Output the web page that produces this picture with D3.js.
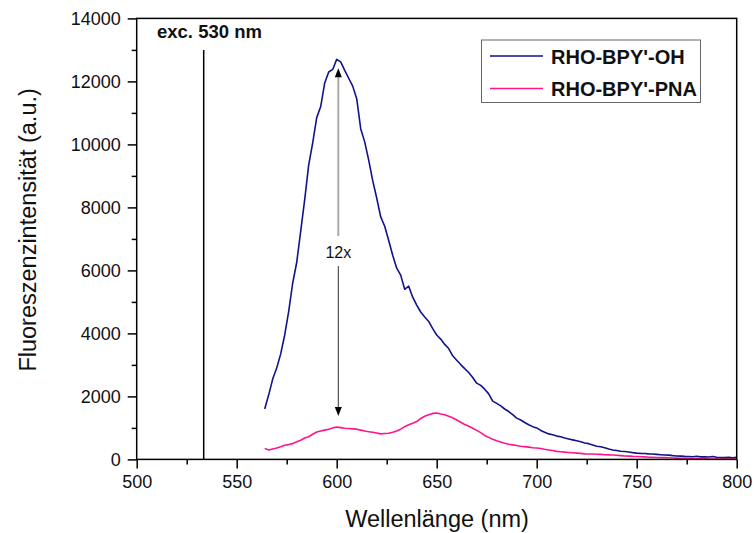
<!DOCTYPE html>
<html>
<head>
<meta charset="utf-8">
<script src="https://cdn.jsdelivr.net/npm/d3@7"></script>
<style>
  html, body { margin: 0; padding: 0; background: #fff; }
  svg { display: block; }
  text { font-family: "Liberation Sans", Arial, sans-serif; fill: #111; }
</style>
</head>
<body>
<svg id="chart" width="754" height="533"></svg>
<script>
// Emission spectra, 2 nm steps (nm)
const wavelengths = d3.range(564, 801, 2);

// RHO-BPY'-OH fluorescence (a.u.)
const rhoOH = [
  1600, 2050, 2550, 2900, 3350, 3950, 4700, 5600, 6250, 7250,
  8250, 9350, 10050, 10850, 11200, 11950, 12300, 12380, 12700, 12620,
  12350, 12100, 11850, 11450, 10500, 10080, 9500, 8850, 8300, 7700,
  7400, 6950, 6480, 6070, 5850, 5400, 5500, 5150, 4900, 4680,
  4520, 4380, 4150, 3950, 3820, 3650, 3520, 3290, 3150, 3010,
  2880, 2760, 2600, 2420, 2350, 2230, 2080, 1850, 1780, 1700,
  1600, 1520, 1420, 1310, 1250, 1170, 1100, 1040, 1000, 920,
  860, 810, 780, 740, 720, 680, 650, 620, 590, 560,
  520, 500, 460, 420, 400, 370, 330, 300, 280, 260,
  250, 235, 215, 200, 190, 185, 175, 170, 160, 150,
  140, 135, 120, 110, 105, 95, 90, 85, 100, 80,
  85, 75, 90, 70, 60, 55, 65, 50, 70
];

// RHO-BPY'-PNA fluorescence (a.u.)
const rhoPNA = [
  350, 300, 330, 360, 400, 450, 470, 500, 560, 610,
  680, 720, 800, 870, 900, 930, 960, 1000, 1030, 1010,
  990, 980, 970, 960, 930, 900, 880, 860, 840, 810,
  820, 830, 860, 900, 960, 1040, 1100, 1150, 1200, 1300,
  1370, 1420, 1460, 1470, 1440, 1420, 1370, 1320, 1250, 1180,
  1110, 1050, 990, 920, 850, 760, 700, 640, 590, 550,
  510, 480, 460, 440, 420, 405, 390, 370, 360, 345,
  320, 300, 280, 255, 245, 230, 220, 210, 200, 190,
  175, 170, 170, 165, 160, 150, 145, 140, 130, 120,
  110, 105, 95, 90, 85, 80, 70, 65, 60, 55,
  55, 50, 45, 40, 35, 35, 35, 30, 25, 20,
  20, 15, 15, 15, 10, 15, 10, 10, 10
];

const seriesNames = ["RHO-BPY'-OH", "RHO-BPY'-PNA"];
const seriesColors = ["#12128c", "#ff148c"];

const xTicks = [500, 550, 600, 650, 700, 750, 800];
const yTicks = [0, 2000, 4000, 6000, 8000, 10000, 12000, 14000];

// excitation marker and enhancement arrow
const excitation = { nm: 533.5, top: 13000, label: "exc. 530 nm" };
const enhancement = { nm: 600.8, high: 12420, low: 1380, label: "12x" };

const svg = d3.select("#chart");
const x = d3.scaleLinear().domain([500, 800]).range([136.7, 736.7]);
const y = d3.scaleLinear().domain([0, 14000]).range([459.4, 18.4]);

const plotL = x(500), plotR = x(800), plotT = y(14000), plotB = y(0);

// data curves
const line = d3.line().x(d => x(d[0])).y(d => y(d[1]));
[rhoOH, rhoPNA].forEach((vals, i) => {
  svg.append("path")
    .datum(wavelengths.map((w, k) => [w, vals[k]]))
    .attr("d", line)
    .attr("fill", "none")
    .attr("stroke", seriesColors[i])
    .attr("stroke-width", 1.6)
    .attr("stroke-linejoin", "round");
});

// excitation line
svg.append("line")
  .attr("x1", x(excitation.nm)).attr("x2", x(excitation.nm))
  .attr("y1", y(0)).attr("y2", y(excitation.top))
  .attr("stroke", "#000").attr("stroke-width", 1.5);
svg.append("text")
  .attr("x", 157).attr("y", 38)
  .attr("font-size", 18.5).attr("font-weight", "bold")
  .text(excitation.label);

// enhancement arrow
const ax = x(enhancement.nm);
const yHi = y(enhancement.high), yLo = y(enhancement.low);
svg.append("line")
  .attr("x1", ax).attr("x2", ax).attr("y1", yHi + 6).attr("y2", 236)
  .attr("stroke", "#aaa").attr("stroke-width", 2);
svg.append("path")
  .attr("d", `M${ax},${yHi} L${ax - 3.5},${yHi + 9} L${ax + 3.5},${yHi + 9} Z`)
  .attr("fill", "#000");
svg.append("line")
  .attr("x1", ax).attr("x2", ax).attr("y1", 266).attr("y2", yLo - 6)
  .attr("stroke", "#333").attr("stroke-width", 1);
svg.append("path")
  .attr("d", `M${ax},${yLo} L${ax - 3.5},${yLo - 9} L${ax + 3.5},${yLo - 9} Z`)
  .attr("fill", "#000");
svg.append("text")
  .attr("x", ax).attr("y", 258)
  .attr("text-anchor", "middle").attr("font-size", 16)
  .text(enhancement.label);

// axes
const xAxis = d3.axisBottom(x).tickValues(xTicks).tickSize(9).tickPadding(7).tickFormat(d3.format("d"));
const xMinor = d3.axisBottom(x).tickValues(d3.range(525, 800, 50)).tickSize(5).tickFormat("");
const yAxis = d3.axisLeft(y).tickValues(yTicks).tickSize(9).tickPadding(7).tickFormat(d3.format("d"));
const yMinor = d3.axisLeft(y).tickValues(d3.range(1000, 14000, 2000)).tickSize(5).tickFormat("");

function styleAxis(g) {
  g.selectAll(".domain").remove();
  g.selectAll("line").attr("stroke", "#000").attr("stroke-width", 1.5);
  g.selectAll("text").attr("font-size", 18).attr("fill", "#111")
    .attr("font-family", "'Liberation Sans', Arial, sans-serif");
}
svg.append("g").attr("transform", `translate(0,${plotB})`).call(xAxis).call(styleAxis);
svg.append("g").attr("transform", `translate(0,${plotB})`).call(xMinor).call(styleAxis);
svg.append("g").attr("transform", `translate(${plotL},0)`).call(yAxis).call(styleAxis);
svg.append("g").attr("transform", `translate(${plotL},0)`).call(yMinor).call(styleAxis);

// frame
svg.append("rect")
  .attr("x", plotL).attr("y", plotT)
  .attr("width", plotR - plotL).attr("height", plotB - plotT)
  .attr("fill", "none").attr("stroke", "#000").attr("stroke-width", 1.5);

// axis titles
svg.append("text")
  .attr("x", 437).attr("y", 527)
  .attr("text-anchor", "middle").attr("font-size", 23.5)
  .text("Wellenlänge (nm)");
svg.append("text")
  .attr("transform", `translate(36,${(plotT + plotB) / 2 - 9}) rotate(-90)`)
  .attr("text-anchor", "middle").attr("font-size", 23.5)
  .text("Fluoreszenzintensität (a.u.)");

// legend
const lg = svg.append("g");
lg.append("rect")
  .attr("x", 481.5).attr("y", 40).attr("width", 219).attr("height", 62.5)
  .attr("fill", "#fff").attr("stroke", "#666").attr("stroke-width", 1);
seriesNames.forEach((name, i) => {
  const cy = 56 + i * 32.5;
  lg.append("line")
    .attr("x1", 490).attr("x2", 543).attr("y1", cy).attr("y2", cy)
    .attr("stroke", seriesColors[i]).attr("stroke-width", 1.6);
  lg.append("text")
    .attr("x", 551).attr("y", cy + 7.5)
    .attr("font-size", 20).attr("font-weight", "bold")
    .text(name);
});
</script>
</body>
</html>
